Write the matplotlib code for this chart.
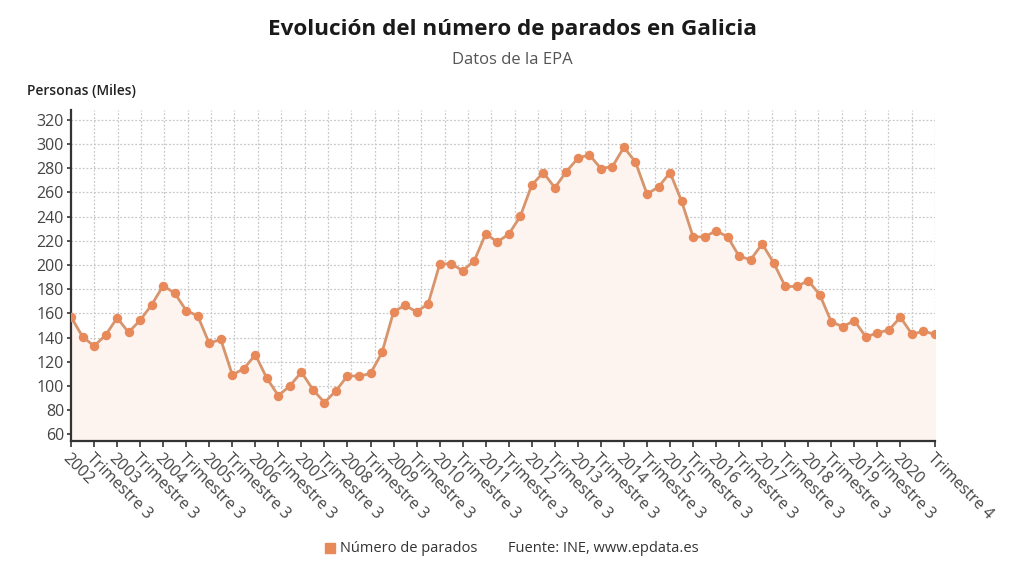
import matplotlib
matplotlib.use("Agg")
import matplotlib.pyplot as plt
import numpy as np

plt.rcParams['font.family'] = ['Open Sans', 'DejaVu Sans']

years = list(range(2002, 2021))
parados = [157.1, 140.7, 133.0, 141.9, 156.2, 144.3, 154.3, 167.0,
           182.8, 176.7, 162.3, 157.9, 135.2, 138.5, 109.2, 114.2,
           125.8, 106.4, 92.0, 100.1, 111.4, 97.0, 86.3, 96.0,
           108.4, 108.1, 110.3, 127.7, 161.2, 166.7, 161.2, 167.9,
           200.5, 201.1, 195.2, 203.3, 225.7, 219.0, 225.4, 240.1,
           266.1, 276.3, 263.8, 277.1, 288.2, 291.0, 279.6, 281.3,
           297.3, 284.9, 258.6, 264.4, 276.3, 252.8, 223.2, 223.2,
           228.2, 223.2, 207.1, 204.4, 217.4, 201.6, 182.2, 182.2,
           187.0, 175.3, 152.9, 149.0, 154.0, 140.5, 143.8, 146.3,
           156.8, 142.7, 145.2, 142.7]

tick_idx = list(range(0, 73, 2)) + [75]
tick_labels = []
for i in tick_idx:
    if i == 75:
        tick_labels.append("Trimestre 4")
    elif i % 4 == 0:
        tick_labels.append(str(years[i // 4]))
    else:
        tick_labels.append("Trimestre 3")

x = np.arange(len(parados))

fig = plt.figure(figsize=(10.24, 5.76), dpi=100)
ax = fig.add_axes([71/1024, 1-441/576, (935-71)/1024, (441-110)/576])

line_c = '#d6956d'
mark_c = '#e8895a'

ax.fill_between(x, parados, 0, color='#fdf3ef', zorder=1)
ax.plot(x, parados, color=line_c, lw=2.0, zorder=3)
ax.plot(x, parados, 'o', color=mark_c, ms=6.8, mec='none', zorder=4)

ax.set_xlim(0, 75)
ax.set_ylim(54.5, 328)
ax.set_yticks(range(60, 321, 20))

# vertical grid: evenly spaced lines
for gx in np.linspace(0, 75, 38):
    ax.axvline(gx, color='#c8c8c8', lw=0.9, ls=(0, (1.5, 1.5)), zorder=0)
ax.yaxis.grid(True, color='#c8c8c8', lw=0.9, ls=(0, (1.5, 1.5)), zorder=0)
ax.set_axisbelow(True)

ax.set_xticks(tick_idx)
ax.set_xticklabels(tick_labels, rotation=-45, ha='left', va='top',
                   rotation_mode='anchor', fontsize=11.5, color='#444444')
ax.tick_params(axis='x', length=4, width=1.2, color='#333333', pad=3)
ax.tick_params(axis='y', length=3, width=1.2, color='#333333', labelsize=11.5,
               labelcolor='#444444', pad=2)

for s in ['top', 'right']:
    ax.spines[s].set_visible(False)
ax.spines['left'].set_color('#333333')
ax.spines['left'].set_linewidth(1.6)
ax.spines['bottom'].set_color('#333333')
ax.spines['bottom'].set_linewidth(1.6)

fig.text(0.5, 1-30/576, "Evolución del número de parados en Galicia",
         ha='center', va='center', fontsize=16.2, fontweight='bold', color='#1a1a1a')
fig.text(0.5, 1-60/576, "Datos de la EPA", ha='center', va='center',
         fontsize=12, color='#555555')
fig.text(27/1024, 1-91/576, "Personas (Miles)", ha='left', va='center',
         fontsize=10, fontweight='semibold', color='#222222')

# legend
fig.patches.append(plt.Rectangle((325/1024, 1-553/576), 10/1024, 10/576,
                                 transform=fig.transFigure, color=mark_c))
fig.text(340/1024, 1-548/576, "Número de parados", ha='left', va='center',
         fontsize=10.5, color='#333333')
fig.text(508/1024, 1-548/576, "Fuente: INE, www.epdata.es", ha='left', va='center',
         fontsize=10.5, color='#333333')

fig.savefig("out.png", dpi=100, facecolor='white')
